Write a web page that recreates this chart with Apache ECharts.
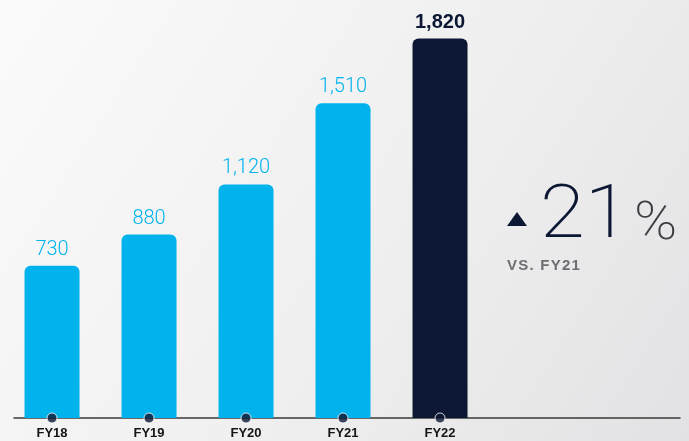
<!DOCTYPE html>
<html>
<head>
<meta charset="utf-8">
<script src="https://cdn.jsdelivr.net/npm/echarts@6/dist/echarts.min.js"></script>
<style>
  html, body { margin: 0; padding: 0; }
  #chart { width: 689px; height: 441px; }
</style>
</head>
<body>
<div id="chart"></div>
<script>
// Fiscal-year totals
const categories = ['FY18', 'FY19', 'FY20', 'FY21', 'FY22'];
const values = [730, 880, 1120, 1510, 1820];
const highlightIndex = 4;          // latest year drawn in navy
const changePct = '21';
const changeNote = 'VS. FY21';

const BLUE = '#00b3ec';
const NAVY = '#0c1733';

const chart = echarts.init(document.getElementById('chart'), null, { renderer: 'canvas' });

const barData = values.map((v, i) => ({
  value: [i, v],
  itemStyle: { color: i === highlightIndex ? NAVY : BLUE },
  label: i === highlightIndex
    ? { color: NAVY, fontWeight: 'bold', fontFamily: 'Liberation Sans', fontSize: 20 }
    : {}
}));

chart.setOption({
  animation: false,
  backgroundColor: {
    type: 'linear', x: 0, y: 0, x2: 1, y2: 1,
    colorStops: [
      { offset: 0, color: '#fbfbfb' },
      { offset: 0.6, color: '#eeeeef' },
      { offset: 1, color: '#e2e2e4' }
    ]
  },
  grid: { left: 14, right: 9, top: 1, bottom: 23, containLabel: false },
  xAxis: {
    type: 'value',
    min: -0.392,
    max: 6.474,
    splitLine: { show: false },
    axisLine: { show: true, onZero: false, lineStyle: { color: '#3a3a3a', width: 1.5 } },
    axisTick: { show: false },
    axisLabel: {
      customValues: categories.map((c, i) => i),
      formatter: v => categories[Math.round(v)] || '',
      color: '#151515',
      fontFamily: 'Liberation Sans',
      fontWeight: 'bold',
      fontSize: 13,
      margin: 9
    }
  },
  yAxis: {
    type: 'value',
    min: 0,
    max: 2000,
    show: false
  },
  series: [
    {
      type: 'bar',
      barWidth: 55,
      data: barData,
      itemStyle: { borderRadius: [6, 6, 0, 0] },
      label: {
        show: true,
        position: 'top',
        distance: 6,
        color: BLUE,
        fontFamily: 'Roboto',
        fontWeight: 300,
        fontSize: 20,
        formatter: p => p.value[1].toLocaleString('en-US')
      }
    },
    {
      // markers on the baseline under each bar
      type: 'scatter',
      symbol: 'circle',
      symbolSize: 10,
      z: 5,
      data: categories.map((c, i) => [i, 0]),
      itemStyle: { color: NAVY, borderColor: '#ffffff', borderWidth: 1 },
      silent: true
    }
  ],
  graphic: [
    {
      type: 'polygon',
      shape: { points: [[507, 226], [527, 226], [517, 212]] },
      style: { fill: NAVY }
    },
    {
      type: 'text',
      x: 540,
      y: 181,
      scaleX: 1.1,
      style: {
        text: changePct,
        fill: NAVY,
        font: '200 74px Roboto'
      }
    },
    {
      type: 'text',
      x: 634,
      y: 199,
      scaleX: 1.1,
      style: {
        text: '%',
        fill: '#3d3d44',
        font: '200 53px Roboto'
      }
    },
    {
      type: 'text',
      x: 507,
      y: 258,
      style: {
        text: changeNote.split('').join('\u200A'),
        fill: '#6e6e72',
        font: 'bold 15px "Liberation Sans"'
      }
    }
  ]
});
</script>
</body>
</html>
